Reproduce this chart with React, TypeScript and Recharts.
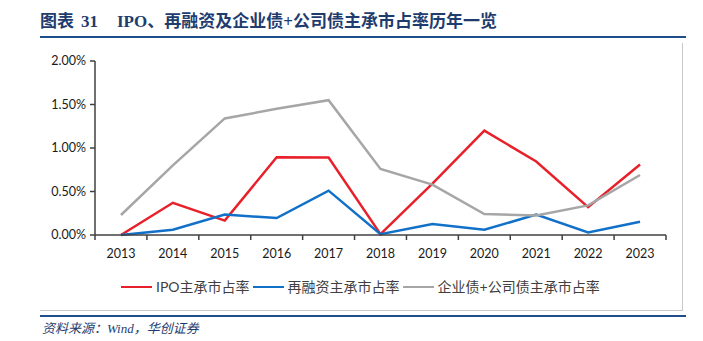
import { LineChart, Line, XAxis, YAxis } from "recharts";

// 年份
const years = ["2013", "2014", "2015", "2016", "2017", "2018", "2019", "2020", "2021", "2022", "2023"];

// 主承市占率（%）
const ipoShare = [0.0, 0.37, 0.165, 0.895, 0.89, 0.01, 0.59, 1.2, 0.845, 0.32, 0.81];
const refinanceShare = [0.0, 0.06, 0.235, 0.195, 0.51, 0.01, 0.127, 0.06, 0.235, 0.03, 0.153];
const bondShare = [0.23, 0.8, 1.34, 1.45, 1.55, 0.76, 0.58, 0.24, 0.225, 0.34, 0.69];

const yTicks = [0, 0.5, 1.0, 1.5, 2.0];

const seriesNames = ["IPO主承市占率", "再融资主承市占率", "企业债+公司债主承市占率"];
const seriesColors = ["#E8202A", "#1170C8", "#A6A6A6"];

const chartData = years.map((year, i) => ({
  year,
  ipo: ipoShare[i],
  refinance: refinanceShare[i],
  bond: bondShare[i],
}));

const seriesKeys = ["ipo", "refinance", "bond"];

const PLOT_LEFT = 95;
const PLOT_RIGHT = 666;
const BAND = (PLOT_RIGHT - PLOT_LEFT) / years.length;
const AXIS_COLOR = "#404040";
const TICK_MARGIN = 8;

const tickFont = "Lato, 'Noto Sans CJK SC', sans-serif";
const titleFont = "'Liberation Serif', 'Noto Sans CJK SC', serif";

// x 轴刻度：标签居中，刻度线画在类目边界
function YearTick(props: any) {
  const { x, y, payload, index } = props;
  const axisY = y - TICK_MARGIN;
  const last = index === years.length - 1;
  return (
    <g>
      <line x1={x - BAND / 2} y1={axisY} x2={x - BAND / 2} y2={axisY + 5} stroke={AXIS_COLOR} strokeWidth={1.5} />
      {last && (
        <line x1={x + BAND / 2} y1={axisY} x2={x + BAND / 2} y2={axisY + 5} stroke={AXIS_COLOR} strokeWidth={1.5} />
      )}
      <text x={x} y={axisY + 23} textAnchor="middle" fontSize={12.5} fill="#1a1a1a" fontFamily={tickFont}>
        {payload.value}
      </text>
    </g>
  );
}

const titleStyle: any = {
  position: "absolute",
  top: 11,
  fontSize: 17,
  fontWeight: "bold",
  color: "#1F3C6E",
  fontFamily: titleFont,
  whiteSpace: "pre",
  lineHeight: "22px",
};

export default function App() {
  return (
    <div style={{ position: "absolute", left: 0, top: 0, width: 703, height: 341, background: "#fff" }}>
      <span style={{ ...titleStyle, left: 40 }}>图表</span>
      <span style={{ ...titleStyle, left: 81 }}>31</span>
      <span style={{ ...titleStyle, left: 117 }}>IPO、再融资及企业债+公司债主承市占率历年一览</span>
      <div style={{ position: "absolute", left: 40, top: 36, width: 646, height: 2, background: "#1F4E8C" }} />
      <div style={{ position: "absolute", left: 682, top: 43, width: 1, height: 267, background: "#C8C8C8" }} />
      <div style={{ position: "absolute", left: 40, top: 310, width: 643, height: 1, background: "#C8C8C8" }} />
      <div style={{ position: "absolute", left: 40, top: 315, width: 646, height: 2, background: "#1F4E8C" }} />

      <div style={{ position: "absolute", left: 0, top: 0 }}>
        <LineChart width={703} height={300} data={chartData} margin={{ top: 61, right: 37, left: 45, bottom: 35 }}>
          <XAxis
            dataKey="year"
            scale="band"
            axisLine={{ stroke: AXIS_COLOR, strokeWidth: 1.5 }}
            tickLine={false}
            tickSize={0}
            tickMargin={TICK_MARGIN}
            interval={0}
            height={30}
            tick={<YearTick />}
          />
          <YAxis
            width={50}
            domain={[0, 2]}
            ticks={yTicks}
            interval={0}
            tickFormatter={(v: number) => `${v.toFixed(2)}%`}
            axisLine={{ stroke: AXIS_COLOR, strokeWidth: 1.5 }}
            tickLine={{ stroke: AXIS_COLOR, strokeWidth: 1.5 }}
            tickSize={5}
            tickMargin={4}
            tick={{ fontSize: 12.5, fill: "#1a1a1a", fontFamily: tickFont }}
          />
          {seriesKeys.map((key, i) => (
            <Line
              key={key}
              type="linear"
              dataKey={key}
              stroke={seriesColors[i]}
              strokeWidth={2.5}
              dot={false}
              activeDot={false}
              isAnimationActive={false}
            />
          ))}
        </LineChart>
      </div>

      <div
        style={{
          position: "absolute",
          left: 121,
          top: 278,
          display: "flex",
          alignItems: "center",
          fontSize: 14,
          color: "#404040",
          fontFamily: "Lato, 'Noto Sans CJK SC', sans-serif",
          lineHeight: "18px",
          whiteSpace: "nowrap",
        }}
      >
        {seriesNames.map((name, i) => (
          <div key={name} style={{ display: "flex", alignItems: "center", marginRight: 3 }}>
            <div style={{ width: 31, height: 2.5, background: seriesColors[i], marginRight: 4 }} />
            <span>{name}</span>
          </div>
        ))}
      </div>

      <div
        style={{
          position: "absolute",
          left: 42,
          top: 320,
          fontSize: 13,
          fontStyle: "italic",
          color: "#1F3C6E",
          fontFamily: titleFont,
          lineHeight: "18px",
        }}
      >
        资料来源：Wind，华创证券
      </div>
    </div>
  );
}
